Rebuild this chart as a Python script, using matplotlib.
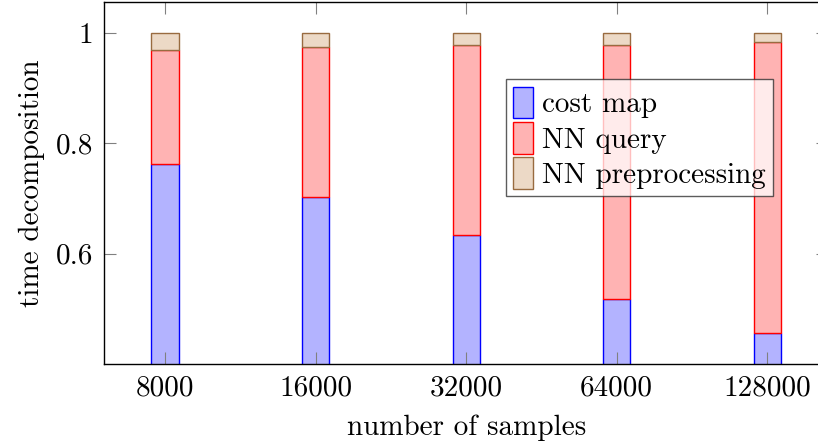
import numpy as np
import matplotlib
matplotlib.use("Agg")
import matplotlib.pyplot as plt

plt.rcParams["font.family"] = ["cmr10", "DejaVu Serif"]
plt.rcParams["mathtext.fontset"] = "cm"
plt.rcParams["axes.formatter.use_mathtext"] = True

samples = ["8000", "16000", "32000", "64000", "128000"]
cost_map = [0.762, 0.703, 0.634, 0.519, 0.456]
nn_query = [0.206, 0.271, 0.343, 0.459, 0.528]
nn_prep = [0.032, 0.026, 0.023, 0.022, 0.016]

y_ticks = [0.6, 0.8, 1.0]
y_ticklabels = ["0.6", "0.8", "1"]

blue_fill, blue_edge = (0.7, 0.7, 1.0), (0.0, 0.0, 1.0)
red_fill, red_edge = (1.0, 0.7, 0.7), (1.0, 0.0, 0.0)
brown_fill, brown_edge = (0.925, 0.85, 0.775), (0.6, 0.42, 0.25)

fs = 21

fig = plt.figure(figsize=(8.18, 4.41), dpi=100)
ax = fig.add_axes([104.3 / 818, 1 - 364.3 / 441, (828 - 104.3) / 818, (364.3 - 2.3) / 441])

x = np.arange(len(samples))
w = 0.18
cost = np.array(cost_map)
query = np.array(nn_query)
ax.bar(x, cost, w, bottom=0, color=blue_fill, edgecolor=blue_edge, lw=1, label="cost map")
ax.bar(x, query, w, bottom=cost, color=red_fill, edgecolor=red_edge, lw=1, label="NN query")
ax.bar(x, nn_prep, w, bottom=cost + query, color=brown_fill, edgecolor=brown_edge, lw=1,
       label="NN preprocessing")

ax.set_xlim(-0.403, 4.403)
ax.set_ylim(0.4, 1.055)
ax.set_xticks(x)
ax.set_xticklabels(samples)
ax.set_yticks(y_ticks)
ax.set_yticklabels(y_ticklabels)
ax.tick_params(direction="in", length=8.5, width=0.8, color="0.5", labelsize=fs,
               top=True, right=True, pad=8)
for s in ax.spines.values():
    s.set_linewidth(1.0)

ax.set_xlabel("number of samples", fontsize=fs, labelpad=9)
ax.set_ylabel("time decomposition", fontsize=fs, labelpad=8)

leg = ax.legend(loc="upper left", bbox_to_anchor=(505.7 / 818, 1 - 79.3 / 441),
                bbox_transform=fig.transFigure, fontsize=fs, frameon=True, fancybox=False,
                edgecolor="0.15", framealpha=0.75, handlelength=0.7, handleheight=1.3,
                handletextpad=0.3, labelspacing=0.12, borderpad=0.25, borderaxespad=0)
leg.get_frame().set_linewidth(1.0)

fig.savefig("out.png", dpi=100)
